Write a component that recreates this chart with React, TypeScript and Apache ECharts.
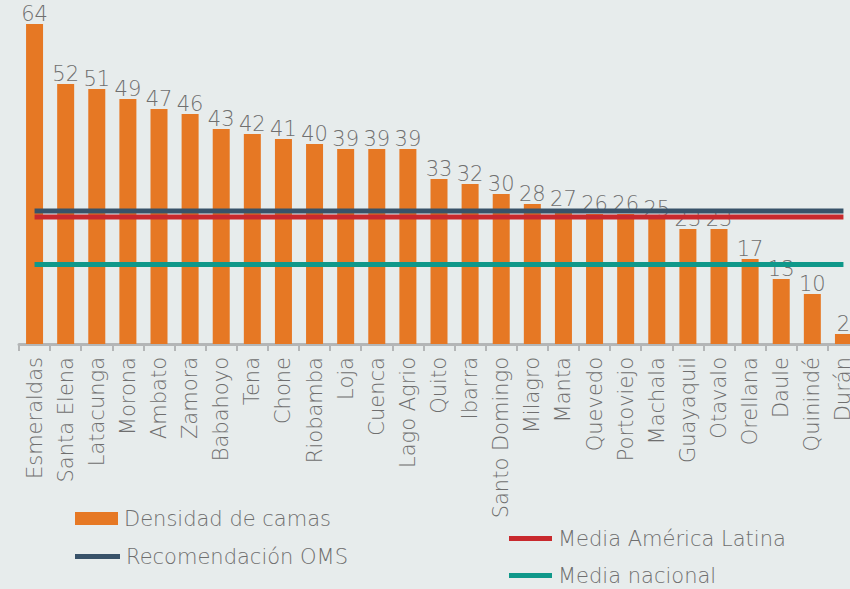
import React, { useEffect, useRef } from "react";
import * as echarts from "echarts";

const categories: string[] = [
  "Esmeraldas", "Santa Elena", "Latacunga", "Morona", "Ambato", "Zamora",
  "Babahoyo", "Tena", "Chone", "Riobamba", "Loja", "Cuenca", "Lago Agrio",
  "Quito", "Ibarra", "Santo Domingo", "Milagro", "Manta", "Quevedo",
  "Portoviejo", "Machala", "Guayaquil", "Otavalo", "Orellana", "Daule",
  "Quinindé", "Durán",
];

const densidadCamas: number[] = [
  64, 52, 51, 49, 47, 46, 43, 42, 41, 40, 39, 39, 39, 33, 32, 30, 28, 27, 26,
  26, 25, 23, 23, 17, 13, 10, 2,
];

const recomendacionOMS = 26.6;
const mediaAmericaLatina = 25.4;
const mediaNacional = 15.9;

const seriesNames = {
  bars: "Densidad de camas",
  oms: "Recomendación OMS",
  latam: "Media América Latina",
  nacional: "Media nacional",
};

const colors = {
  bar: "#E67824",
  oms: "#385269",
  latam: "#C8292D",
  nacional: "#0F988A",
  text: "#6F6F6F",
  axis: "#B4B6B7",
  bg: "#E7ECEC",
};

const FONT = "'DejaVu Sans', sans-serif";
const FS = 21;

const flat = (v: number) => categories.map(() => v);

export default function App() {
  const ref = useRef<HTMLDivElement>(null);

  useEffect(() => {
    if (!ref.current) return;
    const chart = echarts.init(ref.current, undefined, { renderer: "svg" });

    const lineSeries = (name: string, value: number, color: string) => ({
      name,
      type: "line",
      data: flat(value),
      symbol: "none",
      z: 5,
      lineStyle: { color, width: 5 },
      itemStyle: { color },
      emphasis: { disabled: true },
    });

    const legendText = {
      fontFamily: FONT,
      fontSize: FS,
      fontWeight: 200,
      color: colors.text,
      padding: [0, 0, 0, 1],
    };

    chart.setOption({
      animation: false,
      backgroundColor: colors.bg,
      grid: { left: 19, right: 0, top: 24, bottom: 245, containLabel: false },
      xAxis: {
        type: "category",
        data: categories,
        axisLine: { lineStyle: { color: colors.axis, width: 3 } },
        axisTick: { show: true, length: 7, lineStyle: { color: colors.axis, width: 2 } },
        axisLabel: {
          rotate: 90,
          interval: 0,
          margin: 13,
          fontFamily: FONT,
          fontSize: FS,
          fontWeight: 200,
          color: colors.text,
        },
      },
      yAxis: {
        type: "value",
        min: 0,
        max: 64,
        show: false,
        splitLine: { show: false },
      },
      legend: [
        {
          data: [seriesNames.bars],
          left: 75,
          top: 508,
          padding: 0,
          icon: "rect",
          itemWidth: 43,
          itemHeight: 13,
          textStyle: legendText,
        },
        {
          data: [seriesNames.oms],
          left: 75,
          top: 546,
          padding: 0,
          icon: "rect",
          itemWidth: 45,
          itemHeight: 5,
          textStyle: legendText,
        },
        {
          data: [seriesNames.latam],
          left: 509,
          top: 528,
          padding: 0,
          icon: "rect",
          itemWidth: 43,
          itemHeight: 5,
          textStyle: legendText,
        },
        {
          data: [seriesNames.nacional],
          left: 509,
          top: 565,
          padding: 0,
          icon: "rect",
          itemWidth: 43,
          itemHeight: 5,
          textStyle: legendText,
        },
      ],
      series: [
        {
          name: seriesNames.bars,
          type: "bar",
          data: densidadCamas,
          barWidth: 17,
          itemStyle: { color: colors.bar },
          label: {
            show: true,
            position: "top",
            distance: 0,
            fontFamily: FONT,
            fontSize: FS,
            fontWeight: 200,
            color: colors.text,
          },
          emphasis: { disabled: true },
        },
        lineSeries(seriesNames.oms, recomendacionOMS, colors.oms),
        lineSeries(seriesNames.latam, mediaAmericaLatina, colors.latam),
        lineSeries(seriesNames.nacional, mediaNacional, colors.nacional),
      ],
    });

    return () => chart.dispose();
  }, []);

  return (
    <div
      style={{
        position: "absolute",
        left: 0,
        top: 0,
        width: 850,
        height: 589,
        overflow: "hidden",
      }}
    >
      <div ref={ref} style={{ width: 859, height: 589 }} />
    </div>
  );
}
